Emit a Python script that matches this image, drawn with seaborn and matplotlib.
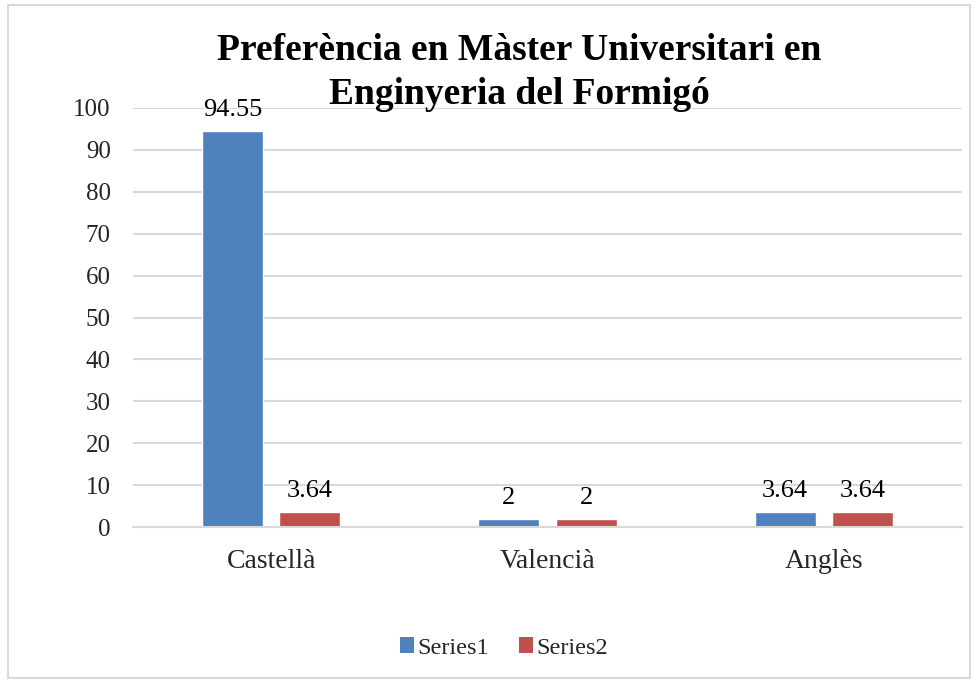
import matplotlib
matplotlib.use("Agg")
import matplotlib.pyplot as plt
import seaborn as sns
import pandas as pd
from matplotlib.patches import Rectangle, Patch

categories = ["Castellà", "Valencià", "Anglès"]
series_names = ["Series1", "Series2"]
series1 = [94.55, 2, 3.64]
series2 = [3.64, 2, 3.64]
label_text1 = ["94.55", "2", "3.64"]
label_text2 = ["3.64", "2", "3.64"]
yticks = [0, 10, 20, 30, 40, 50, 60, 70, 80, 90, 100]
title_lines = ["Preferència en Màster Universitari en", "Enginyeria del Formigó"]
colors = ["#4F81BD", "#C0504D"]

df = pd.DataFrame({
    "cat": categories * 2,
    "series": [series_names[0]] * 3 + [series_names[1]] * 3,
    "value": series1 + series2,
})

sns.set_theme(style="white")
plt.rcParams["font.family"] = ["Liberation Serif", "DejaVu Serif"]

fig = plt.figure(figsize=(9.77, 6.81), dpi=100)
ax = fig.add_axes([133 / 977, 154 / 681, 829 / 977, 419 / 681])

sns.barplot(data=df, x="cat", y="value", hue="series", order=categories,
            hue_order=series_names, palette=colors, width=0.56, gap=0.214,
            ax=ax, legend=False, saturation=1, errorbar=None)

for cont, labs in zip(ax.containers, [label_text1, label_text2]):
    ax.bar_label(cont, labels=labs, padding=7, fontsize=19, color="#000000", clip_on=False)

ax.set_ylim(0, 100)
ax.set_xlim(-0.5, 2.5)
ax.set_yticks(yticks)
ax.set_yticklabels([str(t) for t in yticks], fontsize=18)
ax.tick_params(axis="y", length=0, pad=16)
ax.tick_params(axis="x", length=0, pad=16, labelsize=20)
ax.set_xlabel("")
ax.set_ylabel("")
ax.yaxis.grid(True, color="#D9D9D9", linewidth=1.5)
ax.set_axisbelow(True)
for s in ["top", "right", "left"]:
    ax.spines[s].set_visible(False)
ax.spines["bottom"].set_color("#D9D9D9")
ax.spines["bottom"].set_linewidth(1.5)

for line, ypix in zip(title_lines, [51, 94]):
    fig.text(519 / 977, 1 - ypix / 681, line, ha="center", va="center",
             fontsize=27, fontweight="bold", color="#000000")

handles = [Patch(facecolor=c, edgecolor="none") for c in colors]
fig.legend(handles, series_names, loc="center", bbox_to_anchor=(504 / 977, 1 - 648 / 681),
           ncol=2, frameon=False, fontsize=17.5, handlelength=0.6, handleheight=0.6,
           handletextpad=0.15, columnspacing=1.2)

fig.patches.append(Rectangle((8 / 977, 3 / 681), 962 / 977, 673 / 681,
                             transform=fig.transFigure, fill=False,
                             edgecolor="#D9D9D9", linewidth=1.5))

fig.savefig("out.png", dpi=100)
